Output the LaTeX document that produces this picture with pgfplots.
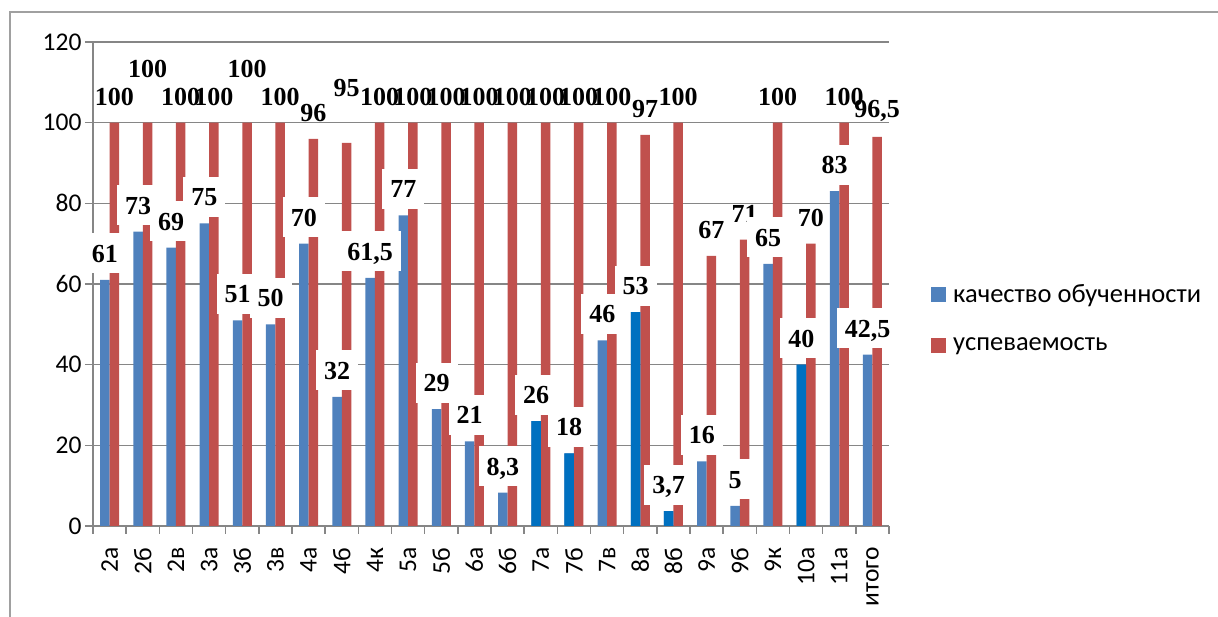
\documentclass[border=0pt]{standalone}
\usepackage{pgfplots}
\pgfplotsset{compat=1.18}
\usepackage{pgfplotstable}
\usepackage{fontspec}
\setmainfont{Carlito}
\newfontfamily\lblfont{Liberation Serif}
\definecolor{cblue}{HTML}{4F81BD}
\definecolor{cdblue}{HTML}{0070C0}
\definecolor{cred}{HTML}{C0504D}
\definecolor{axgray}{HTML}{868686}
\definecolor{frgray}{HTML}{A0A0A0}
\pgfplotstableread{
x blue red dy
0 61 100 26
1 73 100 54
2 69 100 26
3 75 100 26
4 51 100 54
5 50 100 26
6 70 96 26
7 32 95 55
8 61.5 100 26
9 77 100 26
10 29 100 26
11 21 100 26
12 8.3 100 26
13 26 100 26
14 18 100 26
15 46 100 26
16 53 97 26
17 3.7 100 26
18 16 67 26
19 5 71 26
20 65 100 26
21 40 70 26
22 83 100 26
23 42.5 96.5 26
}\data
\pgfplotstableread{
x blue
13 26
14 18
16 53
17 3.7
21 40
}\dark
\begin{document}
\begin{tikzpicture}
\path[use as bounding box] (0,0) rectangle (1218pt,617pt);
\draw[frgray, line width=2pt] (10pt,-5pt) -- (10pt,605pt) -- (1225pt,605pt);
\begin{axis}[
  at={(93pt,91pt)}, anchor=south west,
  width=796pt, height=484pt, scale only axis,
  xmin=-0.5, xmax=23.5, ymin=0, ymax=120,
  ytick={0,20,...,120},
  xtick={0,...,23},
  xticklabels={2а,2б,2в,3а,3б,3в,4а,4б,4к,5а,5б,6а,6б,7а,7б,7в,8а,8б,9а,9б,9к,10а,11а,итого},
  minor xtick={-0.5,0.5,...,23.5},
  major x tick style={draw=none},
  axis lines=left,
  axis line style={-, draw=axgray, line width=1.4pt},
  ymajorgrids,
  grid style={draw=axgray, line width=1.4pt},
  tick align=outside,
  major tick length=8pt, minor tick length=8pt,
  tick style={draw=axgray, line width=1.4pt},
  /pgf/number format/assume math mode=true,
  tick label style={font=\fontsize{25.5}{30}\selectfont},
  xticklabel style={yshift=-10pt, rotate=90, anchor=east},
  legend image code/.code={\fill[#1] (0pt,-7.5pt) rectangle (15pt,7.5pt);},
  legend style={at={(1.049,0.4287)}, anchor=west, draw=none, fill=none,
    font=\fontsize{26.5}{30}\selectfont, row sep=30pt, column sep=5pt},
  legend cell align=left,
  clip=false,
]
\addplot[ybar, bar width=9.5pt, bar shift=-4.75pt, fill=cblue, draw=none] table[x=x, y=blue] {\data};
\addlegendentry{качество обученности}
\addplot[ybar, bar width=9.5pt, bar shift=4.75pt, fill=cred, draw=none] table[x=x, y=red] {\data};
\addlegendentry{успеваемость}
\addplot[ybar, bar width=9.5pt, bar shift=-4.75pt, fill=cdblue, draw=none, forget plot] table[x=x, y=blue] {\dark};
% labels of the red series
\addplot[draw=none, forget plot,
  visualization depends on={\thisrow{dy}\as\dy},
  nodes near coords={\pgfmathprintnumber[use comma, assume math mode=true]{\pgfplotspointmeta}},
  every node near coord/.style={font=\lblfont\bfseries\fontsize{26}{30}\selectfont,
    anchor=center, inner sep=0pt, xshift=4.75pt, yshift=\dy*1pt}]
  table[x=x, y=red] {\data};
% labels of the blue series
\addplot[draw=none, forget plot,
  nodes near coords={\pgfmathprintnumber[use comma, assume math mode=true]{\pgfplotspointmeta}},
  every node near coord/.style={font=\lblfont\bfseries\fontsize{26}{30}\selectfont,
    anchor=center, fill=white, text height=18pt, text depth=0pt,
    inner xsep=8pt, inner ysep=11pt, xshift=-4.75pt, yshift=26.5pt}]
  table[x=x, y=blue] {\data};
\end{axis}
\end{tikzpicture}
\end{document}
